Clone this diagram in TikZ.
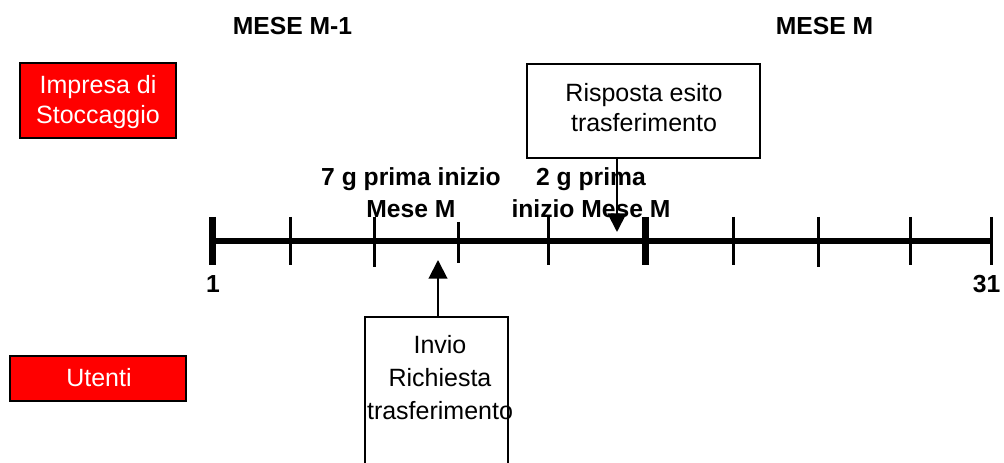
\documentclass[tikz,border=0pt]{standalone}
\usepackage{fontspec}
\setmainfont{Liberation Sans}
\usetikzlibrary{arrows.meta}
\begin{document}
\begin{tikzpicture}[x=0.75pt,y=-0.75pt,
  redbox/.style={draw=black,line width=1.6pt,fill=red,inner sep=0pt},
  wbox/.style={draw=black,line width=1.6pt,fill=white,inner sep=0pt},
  reg/.style={font=\fontsize{18.75}{22.5}\selectfont,align=center,inner sep=0pt,text depth=0pt,anchor=south},
  bld/.style={font=\bfseries\fontsize{18.5}{24}\selectfont,align=center,inner sep=0pt,text depth=0pt,anchor=south},
  thin/.style={line width=2.25pt},
  thick/.style={line width=5.25pt},
  axis/.style={line width=4.7pt},
  arr/.style={line width=1.5pt,-{Triangle[width=14pt,length=14pt]}}
]
\useasboundingbox (0,0) rectangle (1004,463);
\clip (0,0) rectangle (1004,463);

% headings
\node[bld,anchor=base] (hm1) at (292.5,35) {MESE M-1};
\node[bld,anchor=base] (hm) at (824.5,35) {MESE M};

% left boxes
\node[redbox,minimum width=117pt,minimum height=56.25pt] (imp) at (98,100.5) {};
\node[reg,text=white] (impt) at (98,124) {Impresa di\\Stoccaggio};
\node[redbox,minimum width=132pt,minimum height=33.75pt] (ute) at (98,378.5) {};
\node[reg,text=white] (utet) at (99,387) {Utenti};

% timeline
\coordinate (t0) at (212,241);
\coordinate (t1) at (992,241);
\draw[axis] (t0) -- (t1);
\draw[thick] (212,217) -- (212,265);
\draw[thick] (645,217) -- (645,265);
\draw[thin] (991.5,217) -- (991.5,265);
\foreach \x/\a/\b in {290/217/265,374/217/267,458/222/263,548/217/265,733/217/265,818/217/267,910/217/265}
  \draw[thin] (\x,\a) -- (\x,\b);
\node[bld,anchor=base] (one) at (213,293) {1};
\node[bld,anchor=base] (thirtyone) at (986.5,293) {31};

% labels above timeline
\node[bld] (l7) at (411,218) {7 g prima inizio\\Mese M};
\node[bld] (l2) at (591,218) {2 g prima\\inizio Mese M};

% risposta box
\node[wbox,minimum width=174.75pt,minimum height=70.5pt] (risp) at (643.5,111) {};
\node[reg] (rispt) at (644,132) {Risposta esito\\trasferimento};
\coordinate (dt) at (617,232);
\draw[arr] (risp.south -| dt) -- (dt);

% invio box (open at bottom of picture)
\node[wbox,minimum width=107.25pt,minimum height=123pt,anchor=north] (inv) at (436.5,316) {};
\node[reg,font=\fontsize{18.75}{25}\selectfont] (invt) at (440,420) {Invio\\Richiesta\\trasferimento};
\coordinate (ut) at (438,260);
\draw[arr] (inv.north -| ut) -- (ut);
\end{tikzpicture}
\end{document}
